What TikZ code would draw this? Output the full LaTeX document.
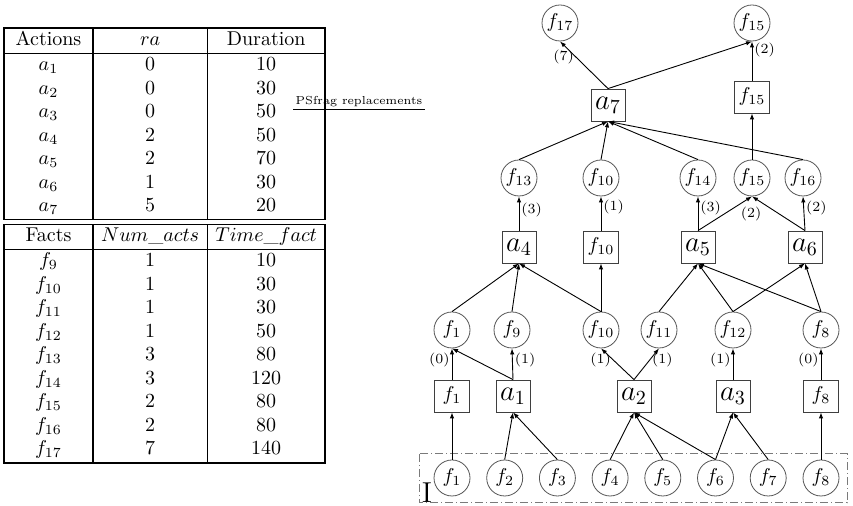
\documentclass[tikz,border=0pt]{standalone}
\usepackage{tikz}
\usepackage{array}
\usetikzlibrary{arrows.meta, positioning}
\definecolor{factline}{HTML}{555555}
\definecolor{actionline}{HTML}{3F3F3F}
\definecolor{initline}{HTML}{7A7A7A}
\setlength{\arrayrulewidth}{0.8pt}
\setlength{\doublerulesep}{1.6pt}
\renewcommand{\arraystretch}{0.98}

\begin{document}
\begin{tikzpicture}[
        x=0.5pt, y=-0.5pt,
        fact/.style={
            draw=factline,
            circle,
            minimum size=18pt,
            inner sep=0pt
        },
        action/.style={
            draw=actionline,
            minimum width=17pt,
            minimum height=16pt,
            inner sep=0pt,
            font=\Large
        },
        noop/.style={
            draw=actionline,
            minimum width=17.5pt,
            minimum height=16pt,
            inner sep=0pt
        },
        link/.style={-{Latex[length=3pt, width=2.2pt]}, line width=0.45pt},
        weight/.style={font=\scriptsize, inner sep=1pt},
        initbox/.style={draw=initline, line width=0.5pt,
            dash pattern=on 4pt off 1.5pt on 0.5pt off 1.5pt}
    ]
        \useasboundingbox (0,0) rectangle (853,506);

        % durations and counters
        \node[anchor=north west, inner sep=0pt] (tables) at (3,27) {%
            \begin{tabular}{|w{c}{31.5pt}|w{c}{44.5pt}|w{c}{46pt}|}
                \hline
                Actions & $ra$ & Duration \\ \hline
                $a_1$ & 0 & 10 \\
                $a_2$ & 0 & 30 \\
                $a_3$ & 0 & 50 \\
                $a_4$ & 2 & 50 \\
                $a_5$ & 2 & 70 \\
                $a_6$ & 1 & 30 \\
                $a_7$ & 5 & 20 \\ \hline\hline
                Facts & $Num\_acts$ & $Time\_fact$ \\ \hline
                $f_9$ & 1 & 10 \\
                $f_{10}$ & 1 & 30 \\
                $f_{11}$ & 1 & 30 \\
                $f_{12}$ & 1 & 50 \\
                $f_{13}$ & 3 & 80 \\
                $f_{14}$ & 3 & 120 \\
                $f_{15}$ & 2 & 80 \\
                $f_{16}$ & 2 & 80 \\
                $f_{17}$ & 7 & 140 \\ \hline
            \end{tabular}};
        \node[font=\fontsize{5.8}{7}\selectfont, inner sep=1pt] (psfrag) at (359,102) {PSfrag replacements};
        \draw[line width=0.5pt] (psfrag.south west) -- (psfrag.south east);

        % initial state
        \draw[initbox] (419,454) rectangle (847,503);
        \node[font=\Large, inner sep=0pt] (initlabel) at (427,493) {I};
        \node[fact] (s0f1) at (452,478) {$f_1$};
        \node[fact] (s0f2) at (504.7,478) {$f_2$};
        \node[fact] (s0f3) at (557.4,478) {$f_3$};
        \node[fact] (s0f4) at (610.1,478) {$f_4$};
        \node[fact] (s0f5) at (662.8,478) {$f_5$};
        \node[fact] (s0f6) at (715.5,478) {$f_6$};
        \node[fact] (s0f7) at (768.2,478) {$f_7$};
        \node[fact] (s0f8) at (821,478) {$f_8$};

        % action layer 0
        \node[noop] (n0f1) at (452,396) {$f_1$};
        \node[action] (a1) at (513,396) {$a_1$};
        \node[action] (a2) at (634,396) {$a_2$};
        \node[action] (a3) at (733,396) {$a_3$};
        \node[noop] (n0f8) at (821,396) {$f_8$};

        % fact layer 1
        \node[fact] (s1f1) at (452,330) {$f_1$};
        \node[fact] (s1f9) at (512,330) {$f_9$};
        \node[fact] (s1f10) at (601,330) {$f_{10}$};
        \node[fact] (s1f11) at (659,330) {$f_{11}$};
        \node[fact] (s1f12) at (733,330) {$f_{12}$};
        \node[fact] (s1f8) at (821,330) {$f_8$};

        % action layer 1
        \node[action] (a4) at (519,247) {$a_4$};
        \node[noop] (n1f10) at (601,247) {$f_{10}$};
        \node[action] (a5) at (698,247) {$a_5$};
        \node[action] (a6) at (805,247) {$a_6$};

        % fact layer 2
        \node[fact] (s2f13) at (519,178) {$f_{13}$};
        \node[fact] (s2f10) at (601,178) {$f_{10}$};
        \node[fact] (s2f14) at (698,178) {$f_{14}$};
        \node[fact] (s2f15) at (752,178) {$f_{15}$};
        \node[fact] (s2f16) at (803,178) {$f_{16}$};

        % action layer 2
        \node[action] (a7) at (608,105) {$a_7$};
        \node[noop] (n2f15) at (752,97) {$f_{15}$};

        % goals
        \node[fact] (s3f17) at (560,23) {$f_{17}$};
        \node[fact] (s3f15) at (752,23) {$f_{15}$};

        \draw[link] (s0f1.north) -- (n0f1.south);
        \draw[link] (s0f2.north) -- (a1.south);
        \draw[link] (s0f3.north) -- (a1.south);
        \draw[link] (s0f4.north) -- (a2.south);
        \draw[link] (s0f5.north) -- (a2.south);
        \draw[link] (s0f6.north) -- (a2.south);
        \draw[link] (s0f6.north) -- (a3.south);
        \draw[link] (s0f7.north) -- (a3.south);
        \draw[link] (s0f8.north) -- (n0f8.south);

        \draw[link] (n0f1.north) -- node[weight, pos=0.63, left] {(0)} (s1f1.south);
        \draw[link] (a1.north) -- (s1f1.south);
        \draw[link] (a1.north) -- node[weight, pos=0.63, right] {(1)} (s1f9.south);
        \draw[link] (a2.north) -- node[weight, pos=0.63, left] {(1)} (s1f10.south);
        \draw[link] (a2.north) -- node[weight, pos=0.63, right] {(1)} (s1f11.south);
        \draw[link] (a3.north) -- node[weight, pos=0.63, left] {(1)} (s1f12.south);
        \draw[link] (n0f8.north) -- node[weight, pos=0.63, left] {(0)} (s1f8.south);

        \draw[link] (s1f1.north) -- (a4.south);
        \draw[link] (s1f9.north) -- (a4.south);
        \draw[link] (s1f10.north) -- (a4.south);
        \draw[link] (s1f10.north) -- (n1f10.south);
        \draw[link] (s1f11.north) -- (a5.south);
        \draw[link] (s1f12.north) -- (a5.south);
        \draw[link] (s1f8.north) -- (a5.south);
        \draw[link] (s1f12.north) -- (a6.south);
        \draw[link] (s1f8.north) -- (a6.south);

        \draw[link] (a4.north) -- node[weight, pos=0.6, right] {(3)} (s2f13.south);
        \draw[link] (n1f10.north) -- node[weight, pos=0.69, right] {(1)} (s2f10.south);
        \draw[link] (a5.north) -- node[weight, pos=0.66, right] {(3)} (s2f14.south);
        \draw[link] (a5.north) -- node[weight, pos=0.75, below right] {(2)} (s2f15.south);
        \draw[link] (a6.north) -- (s2f15.south);
        \draw[link] (a6.north) -- node[weight, pos=0.66, right] {(2)} (s2f16.south);

        \draw[link] (s2f13.north) -- (a7.south);
        \draw[link] (s2f10.north) -- (a7.south);
        \draw[link] (s2f14.north) -- (a7.south);
        \draw[link] (s2f16.north) -- (a7.south);
        \draw[link] (s2f15.north) -- (n2f15.south);

        \draw[link] (a7.north) -- node[weight, pos=0.66, left] {(7)} (s3f17.south);
        \draw[link] (a7.north) -- (s3f15.south);
        \draw[link] (n2f15.north) -- node[weight, pos=0.78, right] {(2)} (s3f15.south);
    \end{tikzpicture}
\end{document}
